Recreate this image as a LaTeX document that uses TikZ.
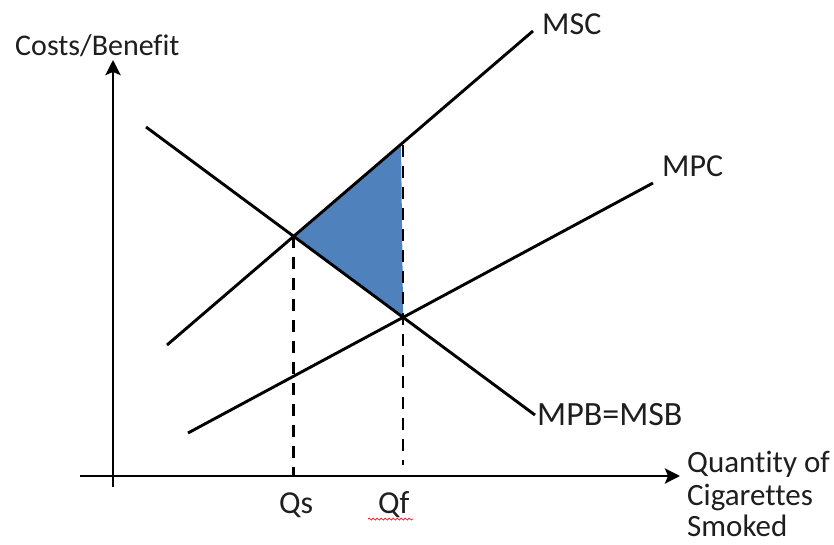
\documentclass[tikz,border=0pt]{standalone}
\usepackage{fontspec}
\setmainfont{Carlito}[Ligatures=NoCommon]
\usetikzlibrary{arrows.meta,decorations.pathmorphing}
\definecolor{triblue}{HTML}{4F81BD}
\definecolor{inkgray}{HTML}{1E1E1E}
\begin{document}
\begin{tikzpicture}[x=1pt,y=-1pt,
  curve/.style={line width=2.9pt},
  axis/.style={line width=2.9pt,-{Stealth[length=15pt,width=15pt,inset=3pt]}},
  guide/.style={line width=2.9pt,dash pattern=on 12pt off 9pt},
  lbl/.style={inner sep=0pt,anchor=base west,text=inkgray,font=\fontsize{32}{34}\selectfont},
  squiggle/.style={red,line width=0.7pt,decorate,decoration={snake,amplitude=1pt,segment length=4pt}}]
\useasboundingbox (0,0) rectangle (834,545);
% axes
\coordinate (ytop) at (113,60);
\coordinate (ybot) at (113,487);
\coordinate (xl) at (80,476);
\coordinate (xr) at (680,476);
\draw[axis] (ybot) -- (ytop);
\draw[axis] (xl) -- (xr);
% curve end points
\coordinate (msc1) at (167,345);
\coordinate (msc2) at (533,31);
\coordinate (mpc1) at (188,433);
\coordinate (mpc2) at (653,183);
\coordinate (mpb1) at (146,127);
\coordinate (mpb2) at (535,415);
% key points
\coordinate (es) at (intersection of msc1--msc2 and mpb1--mpb2);
\coordinate (ef) at (intersection of mpc1--mpc2 and mpb1--mpb2);
\coordinate (tt) at (intersection of msc1--msc2 and 401,0--401,545);
\coordinate (qs) at (es |- xl);
\coordinate (dtop) at (403,145);
\coordinate (dbot) at (403,465);
% welfare loss triangle
\fill[triblue] (es) -- (tt) -- (ef) -- cycle;
% dashed guides
\draw[guide] (es) -- (qs);
\draw[guide] (dtop) -- (dbot);
% curves
\draw[curve] (msc1) -- (msc2);
\draw[curve] (mpc1) -- (mpc2);
\draw[curve] (mpb1) -- (mpb2);
% labels
\node[lbl,font=\fontsize{30}{34}\selectfont] (tcb) at (15,56) {Costs/Benefit};
\node[lbl] (tmsc) at (542,35) {MSC};
\node[lbl] (tmpc) at (662,177) {MPC};
\node[lbl,font=\fontsize{34}{36}\selectfont] (tmpb) at (537,425) {MPB=MSB};
\node[lbl,font=\fontsize{31}{34}\selectfont] (tq1) at (687,472) {Quantity of};
\node[lbl,font=\fontsize{31}{34}\selectfont] (tq2) at (687,505) {Cigarettes};
\node[lbl,font=\fontsize{31}{34}\selectfont] (tq3) at (687,536) {Smoked};
\node[lbl] (tqs) at (279,513) {Qs};
\node[lbl] (tqf) at (378,513) {Qf};
\coordinate (wl) at (368,519);
\coordinate (wr) at (413,519);
\draw[squiggle] (wl) -- (wr);
\end{tikzpicture}
\end{document}
